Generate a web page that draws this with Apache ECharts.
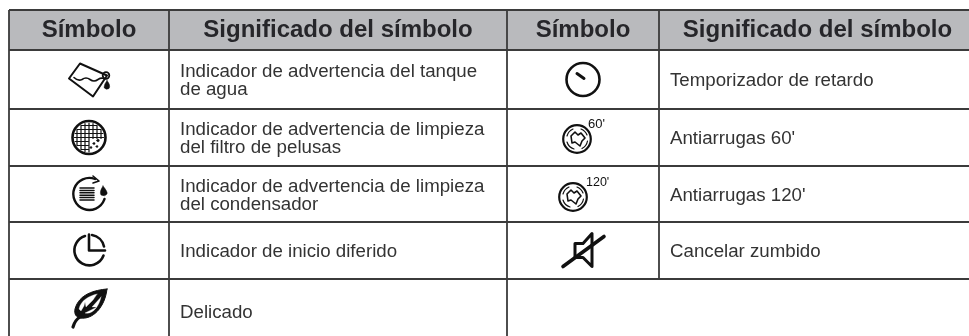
<!DOCTYPE html>
<html lang="es">
<head>
    <meta charset="UTF-8">
    <title>Símbolos</title>
    <style>html,body{margin:0;padding:0;background:#fff}#main{width:969px;height:336px}</style>
</head>
<body>
<div id="main"></div>
<script src="https://cdn.jsdelivr.net/npm/echarts@6/dist/echarts.min.js"></script>
<script type="text/javascript">
    var headers = ['Símbolo', 'Significado del símbolo', 'Símbolo', 'Significado del símbolo'];
    var leftIcons = ['tank', 'filter', 'condenser', 'delay', 'leaf'];
    var leftTexts = ['Indicador de advertencia del tanque\nde agua', 'Indicador de advertencia de limpieza\ndel filtro de pelusas', 'Indicador de advertencia de limpieza\ndel condensador', 'Indicador de inicio diferido', 'Delicado'];
    var rightIcons = ['timer', 'wrinkle60', 'wrinkle120', 'mute', ''];
    var rightTexts = ['Temporizador de retardo', "Antiarrugas 60'", "Antiarrugas 120'", 'Cancelar zumbido', ''];

    // bordes de la tabla, en pixeles del lienzo
    var colX = [9, 169, 507, 659, 976];
    var rowY = [10, 50, 109, 166, 222, 279, 343];
    var lineColor = '#3b3b3b';

    // trozo de icono: path relativo al centro de la celda
    function p(d, w, fill, color) {
        return {d: d, w: w, fill: fill, color: color};
    }
    function filterGrid() {
        var d = '', r = 14.5, i, h;
        for (i = -12; i <= 12; i += 4) {
            h = Math.sqrt(r * r - i * i);
            d += 'M' + i + ',' + (-h) + 'V' + (i > 0 ? Math.min(h, 1) : h);
            d += 'M' + (-h) + ',' + i + 'H' + (i > 0 ? -1 : h);
        }
        return d;
    }
    function circleD(r, cx, cy) {
        cx = cx || 0; cy = cy || 0;
        return 'M' + (cx - r) + ',' + cy + 'A' + r + ',' + r + ',0,1,1,' + (cx + r) + ',' + cy + 'A' + r + ',' + r + ',0,1,1,' + (cx - r) + ',' + cy + 'Z';
    }
    var shirt = 'M-6,-3 L-2,-7 L1,-4 L4,-6 L8,-1 L5,2 L3,7 L-2,3 L-5,4 Z';
    var wrinkleRings = 'M-10,-3 A10.5,10.5,0,0,1,-4,-10 M4,-10 A10.5,10.5,0,0,1,10,-4 M10.5,2 A10.5,10.5,0,0,1,5,9.5 M-3,10 A10.5,10.5,0,0,1,-10,3';
    var iconParts = {
        tank: {dx: 0, dy: 0, parts: [
            p('M-20,-1 L-9,-16 L18,-4 L4,17 Z', 2),
            p('M-15,-2 Q-11,2 -7,0 Q-3,-3 1,0 Q5,3 9,0 Q12,-2 15,-1', 1.6),
            p(circleD(3.3, 17, -4), 1.8),
            p('M18,1 Q22,6 20,9 Q17,11 15,8 Q15,5 18,1 Z', 0.5, '#111')
        ]},
        filter: {dx: 0, dy: 0, parts: [
            p(circleD(16.5), 2.6),
            p(filterGrid(), 1.2),
            p(circleD(1.1, 5, 6), 0.5, '#111'), p(circleD(1.3, 9, 3), 0.5, '#111'), p(circleD(1, 2, 10), 0.5, '#111'), p(circleD(1, 8, 9), 0.5, '#111')
        ]},
        condenser: {dx: 0, dy: 0, parts: [
            p('M6,-15 A16,16,0,1,0,15.5,5', 2.4),
            p('M4,-18 L10,-13 L4,-11', 1.6),
            p('M-9,-6H5 M-9,-3.6H5 M-9,-1.2H5 M-9,1.2H5 M-9,3.6H5 M-9,6H5', 1.5),
            p('M14,-8 Q19,-2 18,0 Q16,3 12,1 Q10,-2 14,-8 Z', 0.5, '#111')
        ]},
        delay: {dx: 0, dy: 0, parts: [
            p('M-4,-14.5 A15,15,0,1,0,14.5,5', 2.6),
            p('M0,-16 V0 H16', 2.6),
            p('M3,-15.5 A15,15,0,0,1,15,-4', 2.6)
        ]},
        leaf: {dx: 0, dy: -1, parts: [
            p('M18,-21 C6,-20 -10,-16 -14,-1 C-15,4 -13,7 -9,8 C4,10 16,-3 18,-21 Z', 1, '#111'),
            p('M8,-16 C0,-14 -8,-10 -10,-1 L-8,1 L-5,-4 L-4,-8 L-3,-3 L4,-10 Z', 0.3, '#fff', '#fff'),
            p('M12,-13 L3,-3 L8,-3 L2,0 L-4,3 C3,5 10,-3 12,-13 Z', 0.3, '#fff', '#fff'),
            p('M-16,17 Q-14,10 -9,7', 3.2)
        ]},
        timer: {dx: 0, dy: 0, parts: [
            p(circleD(16.5), 2.6),
            p('M-6,-6 L1,-1', 3)
        ]},
        wrinkle60: {dx: -6, dy: 1.5, label: "60'", lx: 11, ly: -15, fs: 13, parts: [
            p(circleD(13.8), 2.2),
            p(wrinkleRings, 1.2),
            p(shirt, 1.6)
        ]},
        wrinkle120: {dx: -10, dy: 3, label: "120'", lx: 13, ly: -14, fs: 12.5, parts: [
            p(circleD(13.8), 2.2),
            p(wrinkleRings, 1.2),
            p(shirt, 1.6)
        ]},
        mute: {dx: 0, dy: 0, parts: [
            p('M-8,-7 H0 L9,-17 V16 L0,7 H-8 Z', 3),
            p('M-20,16 L21,-14', 3.6)
        ]}
    };

    function iconGroup(name, cx, cy) {
        var info = iconParts[name];
        var children = info.parts.map(function (part) {
            return {
                type: 'path',
                shape: {pathData: part.d},
                style: {fill: part.fill || 'none', stroke: part.color || '#111', lineWidth: part.w, lineCap: 'round', lineJoin: 'round'}
            };
        });
        if (info.label) {
            children.push({
                type: 'text',
                x: info.lx,
                y: info.ly,
                style: {text: info.label, fontFamily: 'Liberation Sans', fontSize: info.fs, fill: '#111', verticalAlign: 'middle'}
            });
        }
        return {type: 'group', x: cx + info.dx, y: cy + info.dy, children: children};
    }

    // una fila de datos por celda: [columna, fila]
    var cells = [];
    for (var c = 0; c < 4; c++) {
        for (var r = 0; r < 6; r++) {
            cells.push([c, r]);
        }
    }

    function renderCell(params, api) {
        var c = api.value(0), r = api.value(1);
        var tl = api.coord([colX[c], rowY[r]]);
        var br = api.coord([colX[c + 1], rowY[r + 1]]);
        var w = br[0] - tl[0], h = br[1] - tl[1];
        var children = [];
        var blank = c >= 2 && r === 5;
        if (r === 0) {
            children.push({type: 'rect', shape: {x: tl[0], y: tl[1], width: w, height: h}, style: {fill: '#b9babd'}});
            children.push({
                type: 'text',
                x: tl[0] + w / 2,
                y: tl[1] + h / 2,
                style: {text: headers[c], fontFamily: 'Liberation Sans', fontWeight: 'bold', fontSize: 24, fill: '#26262a', align: 'center', verticalAlign: 'middle'}
            });
        } else if (!blank) {
            var icons = c < 2 ? leftIcons : rightIcons;
            var texts = c < 2 ? leftTexts : rightTexts;
            if (c % 2 === 0) {
                children.push(iconGroup(icons[r - 1], tl[0] + w / 2, tl[1] + h / 2));
            } else {
                children.push({
                    type: 'text',
                    x: tl[0] + 11,
                    y: tl[1] + h / 2 + 1.5,
                    style: {text: texts[r - 1], fontFamily: 'Liberation Sans', fontSize: 18.7, lineHeight: 18, fill: '#333', align: 'left', verticalAlign: 'middle'}
                });
            }
        }
        // bordes de la celda
        var edge = 'M' + tl[0] + ',' + br[1] + 'H' + br[0] + 'M' + tl[0] + ',' + tl[1] + 'H' + br[0];
        if (!blank || c === 2) {
            edge += 'M' + tl[0] + ',' + tl[1] + 'V' + br[1];
        }
        children.push({type: 'path', shape: {pathData: edge}, style: {fill: 'none', stroke: lineColor, lineWidth: 1.8}});
        return {type: 'group', children: children};
    }

    var chart = echarts.init(document.getElementById('main'));
    chart.setOption({
        animation: false,
        grid: {left: 0, right: 0, top: 0, bottom: 0},
        xAxis: {type: 'value', min: 0, max: 969, show: false},
        yAxis: {type: 'value', min: 0, max: 336, inverse: true, show: false},
        series: [{
            type: 'custom',
            coordinateSystem: 'cartesian2d',
            data: cells,
            clip: true,
            renderItem: renderCell
        }]
    });
</script>
</body>
</html>
